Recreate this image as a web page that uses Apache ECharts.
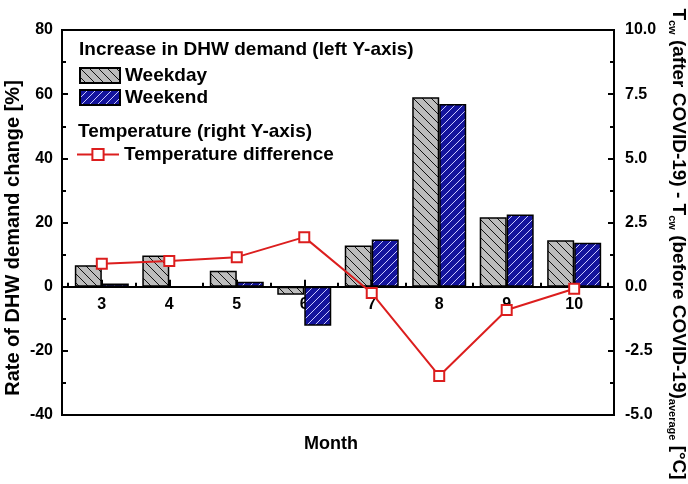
<!DOCTYPE html>
<html>
<head>
<meta charset="utf-8">
<script src="https://cdn.jsdelivr.net/npm/echarts@6/dist/echarts.min.js"></script>
<style>
html,body{margin:0;padding:0;background:#fff;}
#chart{width:688px;height:484px;}
</style>
</head>
<body>
<div id="chart"></div>
<script>
// ---- data ----
const months = [3, 4, 5, 6, 7, 8, 9, 10];
const weekday = [6.7, 9.7, 5.0, -2.5, 12.8, 59.0, 21.6, 14.5];
const weekend = [1.0, 0, 1.5, -12.2, 14.7, 56.9, 22.5, 13.7];
const tempDiff = [0.89, 1.0, 1.15, 1.93, -0.25, -3.48, -0.91, -0.08];
const minorTickValues = [2.5, 3.5, 4.5, 5.5, 6.5, 7.5, 8.5, 9.5, 10.5];

const FONT = 'Arial, "Liberation Sans", sans-serif';

function hatch(bg, fg, dir, size) {
  const c = document.createElement('canvas');
  c.width = size; c.height = size;
  const g = c.getContext('2d');
  g.fillStyle = bg; g.fillRect(0, 0, size, size);
  g.strokeStyle = fg; g.lineWidth = 1;
  g.beginPath();
  if (dir === 'back') { // "\"
    g.moveTo(-1, -1); g.lineTo(size + 1, size + 1);
    g.moveTo(size - 1, -1); g.lineTo(size + 1, 1);
    g.moveTo(-1, size - 1); g.lineTo(1, size + 1);
  } else { // "/"
    g.moveTo(-1, size + 1); g.lineTo(size + 1, -1);
    g.moveTo(-1, 1); g.lineTo(1, -1);
    g.moveTo(size - 1, size + 1); g.lineTo(size + 1, size - 1);
  }
  g.stroke();
  return { image: c, repeat: 'repeat' };
}

const chart = echarts.init(document.getElementById('chart'), null, { renderer: 'canvas' });

const labelStyle = { color: '#000', fontWeight: 'bold', fontSize: 16, fontFamily: FONT };
const legendText = { color: '#000', fontWeight: 'bold', fontSize: 19, fontFamily: FONT };

const option = {
  animation: false,
  backgroundColor: '#fff',
  grid: { left: 62, right: 74, top: 30, bottom: 69, show: true, borderColor: '#000', borderWidth: 2, backgroundColor: 'transparent' },
  legend: [
    {
      data: [{ name: 'Weekday', icon: 'rect' }, { name: 'Weekend', icon: 'rect' }],
      orient: 'vertical', left: 79, top: 66,
      itemWidth: 40, itemHeight: 15, itemGap: 3, itemTextGap: 6, padding: 0,
      selectedMode: false, textStyle: legendText
    },
    {
      data: ['Temperature difference'], orient: 'vertical', left: 76, top: 145,
      itemWidth: 42, itemHeight: 14, itemTextGap: 5, padding: 0,
      selectedMode: false, textStyle: legendText
    }
  ],
  graphic: [
    { type: 'text', left: 79, top: 40, style: { text: 'Increase in DHW demand (left Y-axis)', fill: '#000', font: 'bold 19px ' + FONT } },
    { type: 'text', left: 78, top: 122, style: { text: 'Temperature (right Y-axis)', fill: '#000', font: 'bold 19px ' + FONT } },
    { type: 'text', x: 331, y: 444, style: { text: 'Month', fill: '#000', font: 'bold 18px ' + FONT, align: 'center', verticalAlign: 'middle' } },
    { type: 'text', x: 13, y: 238, rotation: Math.PI / 2, style: { text: 'Rate of DHW demand change [%]', fill: '#000', font: 'bold 20px ' + FONT, align: 'center', verticalAlign: 'middle' } },
    {
      type: 'text', x: 677, y: 244, rotation: -Math.PI / 2,
      style: {
        text: '{m|T}{s|cw}{m| (after COVID-19) - T}{s|cw}{m| (before COVID-19)}{s|average}{m| [°C]}',
        align: 'center', verticalAlign: 'middle', fill: '#000',
        rich: {
          m: { fontSize: 19, fontWeight: 'bold', fontFamily: FONT, lineHeight: 21, verticalAlign: 'top', padding: [0, 0, 4, 0], fill: '#000' },
          s: { fontSize: 11, fontWeight: 'bold', fontFamily: FONT, lineHeight: 11, verticalAlign: 'bottom', fill: '#000' }
        }
      }
    }
  ],
  xAxis: [
    {
      type: 'value', min: 2.41, max: 10.59,
      axisLine: { onZero: true, onZeroAxisIndex: 0, lineStyle: { color: '#000', width: 2 } },
      axisTick: { inside: true, length: 7, customValues: months, lineStyle: { color: '#000', width: 2 } },
      axisLabel: Object.assign({ customValues: months, margin: -118 }, labelStyle),
      splitLine: { show: false }
    },
    {
      type: 'value', min: 2.41, max: 10.59, position: 'bottom',
      axisLine: { show: false, onZero: true, onZeroAxisIndex: 0 },
      axisTick: { inside: true, length: 4, customValues: minorTickValues, lineStyle: { color: '#000', width: 2 } },
      axisLabel: { show: false },
      splitLine: { show: false }
    }
  ],
  yAxis: [
    {
      type: 'value', min: -40, max: 80, interval: 20, position: 'left',
      axisLine: { show: true, onZero: false, lineStyle: { color: '#000', width: 2 } },
      axisTick: { show: true, inside: true, length: 6, lineStyle: { color: '#000', width: 2 } },
      minorTick: { show: true, splitNumber: 2, length: 4, lineStyle: { color: '#000', width: 2 } },
      axisLabel: Object.assign({ margin: 9 }, labelStyle),
      splitLine: { show: false }
    },
    {
      type: 'value', min: -5, max: 10, interval: 2.5, position: 'right',
      axisLine: { show: true, onZero: false, lineStyle: { color: '#000', width: 2 } },
      axisTick: { show: true, inside: true, length: 6, lineStyle: { color: '#000', width: 2 } },
      minorTick: { show: true, splitNumber: 2, length: 4, lineStyle: { color: '#000', width: 2 } },
      axisLabel: Object.assign({ margin: 11, formatter: v => v.toFixed(1) }, labelStyle),
      splitLine: { show: false }
    }
  ],
  series: [
    {
      name: 'Weekday', type: 'bar', xAxisIndex: 0, yAxisIndex: 0,
      data: months.map((m, i) => [m, weekday[i]]),
      barWidth: 27, barGap: '0%',
      itemStyle: { color: hatch('#bdbdbd', '#111', 'back', 9), borderColor: '#000', borderWidth: 1.5 },
      z: 2
    },
    {
      name: 'Weekend', type: 'bar', xAxisIndex: 0, yAxisIndex: 0,
      data: months.map((m, i) => [m, weekend[i]]),
      barWidth: 27, barGap: '0%',
      itemStyle: { color: hatch('#14149c', '#c8c8ff', 'fwd', 8), borderColor: '#000', borderWidth: 1.5 },
      z: 2
    },
    {
      name: 'Temperature difference', type: 'line', xAxisIndex: 0, yAxisIndex: 1,
      data: months.map((m, i) => [m, tempDiff[i]]),
      symbol: 'rect', symbolSize: 10,
      lineStyle: { color: '#dc1e1e', width: 2 },
      itemStyle: { color: '#fff', borderColor: '#dc1e1e', borderWidth: 2 },
      z: 5
    }
  ]
};
chart.setOption(option);
</script>
</body>
</html>
